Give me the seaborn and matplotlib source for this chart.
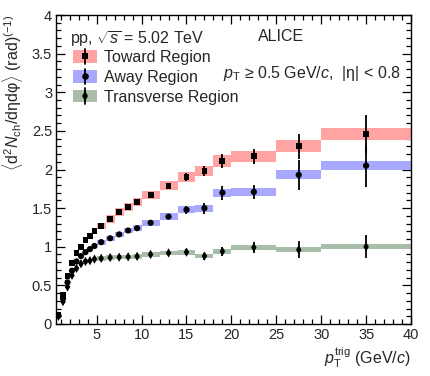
import numpy as np
import pandas as pd
import matplotlib
matplotlib.use("Agg")
import matplotlib.pyplot as plt
import matplotlib.ticker as mticker
from matplotlib.patches import Rectangle, Patch
from matplotlib.lines import Line2D
from matplotlib.legend_handler import HandlerBase
import seaborn as sns

# ---------------- data ----------------
bin_edges = [0.5, 1, 1.5, 2, 2.5, 3, 3.5, 4, 4.5, 5, 6, 7, 8, 9, 10, 12, 14, 16, 18, 20, 25, 30, 40]

toward = [0.12, 0.38, 0.62, 0.79, 0.915, 1.00, 1.09, 1.14, 1.20, 1.27, 1.36, 1.45, 1.52, 1.58,
          1.67, 1.79, 1.90, 1.98, 2.11, 2.17, 2.30, 2.46]
away = [0.11, 0.33, 0.54, 0.69, 0.81, 0.88, 0.93, 0.97, 1.01, 1.06, 1.11, 1.16, 1.21, 1.24,
        1.31, 1.39, 1.48, 1.50, 1.70, 1.71, 1.93, 2.05]
trans = [0.10, 0.29, 0.48, 0.63, 0.72, 0.78, 0.81, 0.82, 0.84, 0.85, 0.86, 0.865, 0.87, 0.875,
         0.90, 0.92, 0.93, 0.88, 0.94, 0.99, 0.96, 1.00]

toward_stat = [0.01, 0.01, 0.01, 0.01, 0.01, 0.01, 0.01, 0.01, 0.01, 0.01, 0.01, 0.012, 0.015, 0.02,
               0.025, 0.035, 0.05, 0.07, 0.09, 0.095, 0.165, 0.25]
away_stat = [0.01, 0.01, 0.01, 0.01, 0.01, 0.01, 0.01, 0.01, 0.01, 0.01, 0.01, 0.012, 0.015, 0.02,
             0.025, 0.035, 0.05, 0.07, 0.09, 0.09, 0.19, 0.27]
trans_stat = [0.01, 0.01, 0.01, 0.01, 0.01, 0.01, 0.01, 0.01, 0.01, 0.01, 0.01, 0.012, 0.015, 0.02,
              0.025, 0.03, 0.04, 0.045, 0.055, 0.07, 0.11, 0.15]

toward_sys = [0.004, 0.013, 0.021, 0.027, 0.031, 0.034, 0.037, 0.039, 0.041, 0.043, 0.046, 0.049,
              0.052, 0.054, 0.057, 0.061, 0.065, 0.067, 0.072, 0.074, 0.078, 0.084]
away_sys = [0.003, 0.010, 0.016, 0.021, 0.024, 0.026, 0.028, 0.029, 0.030, 0.032, 0.033, 0.035,
            0.036, 0.037, 0.039, 0.042, 0.044, 0.045, 0.051, 0.051, 0.058, 0.062]
trans_sys = [0.003, 0.010, 0.016, 0.021, 0.024, 0.026, 0.027, 0.027, 0.028, 0.028, 0.028, 0.029,
             0.029, 0.029, 0.030, 0.030, 0.031, 0.029, 0.031, 0.033, 0.032, 0.033]

region_names = ["Toward Region", "Away Region", "Transverse Region"]
header_text = r"pp, $\sqrt{\mathit{s}}$ = 5.02 TeV"
alice_text = "ALICE"
cut_text = r"$\mathit{p}_{\mathrm{T}}$ ≥ 0.5 GeV/$\mathit{c}$,  |η| < 0.8"
x_label = r"$\mathit{p}_{\mathrm{T}}^{\mathrm{trig}}$ (GeV/$\mathit{c}$)"
y_label = r"$\langle$d$^{2}$$\mathit{N}_{\mathrm{ch}}$/dηdφ$\rangle$ (rad)$^{(-1)}$"

# ---------------- style ----------------
sns.set_style("ticks")
plt.rcParams["font.family"] = ["Liberation Sans", "DejaVu Sans"]
plt.rcParams["mathtext.fontset"] = "custom"
plt.rcParams["mathtext.rm"] = "Liberation Sans"
plt.rcParams["mathtext.it"] = "Liberation Sans:style=italic"
plt.rcParams["mathtext.bf"] = "Liberation Sans:weight=bold"

colors = ["#ffa3a3", "#a8a8ff", "#a9bea9"]
markers = ["s", "o", "d"]
msizes = [18, 20, 22]

edges = np.array(bin_edges)
centers = 0.5 * (edges[:-1] + edges[1:])
widths = np.diff(edges)

fig = plt.figure(figsize=(4.31, 3.76), dpi=100)
ax = fig.add_axes([0.1306, 0.1383, 0.8230, 0.8217])

series = [(toward, toward_stat, toward_sys), (away, away_stat, away_sys), (trans, trans_stat, trans_sys)]
for i, (vals, stat, sys_) in enumerate(series):
    vals = np.array(vals); sys_ = np.array(sys_)
    ax.bar(centers, 2 * sys_, width=widths, bottom=vals - sys_, color=colors[i],
           linewidth=0, align="center", zorder=1)
for i, (vals, stat, sys_) in enumerate(series):
    ax.errorbar(centers, vals, yerr=stat, fmt="none", ecolor="black", elinewidth=1.3,
                capsize=0, zorder=3)
    df = pd.DataFrame({"pt": centers, "val": vals})
    sns.scatterplot(data=df, x="pt", y="val", marker=markers[i], color="black", s=msizes[i],
                    edgecolor="none", linewidth=0, ax=ax, zorder=4, legend=False)

ax.set_xlim(0.5, 40)
ax.set_ylim(0, 4)
ax.xaxis.set_major_locator(mticker.MultipleLocator(5))
ax.xaxis.set_minor_locator(mticker.MultipleLocator(1))
ax.yaxis.set_major_locator(mticker.MultipleLocator(0.5))
ax.yaxis.set_minor_locator(mticker.MultipleLocator(0.1))
fmt = mticker.FuncFormatter(lambda v, p: f"{v:g}")
ax.xaxis.set_major_formatter(fmt)
ax.yaxis.set_major_formatter(fmt)
ax.tick_params(which="both", direction="in", top=True, right=True, labelsize=10.5, pad=3,
               color="black", width=0.9)
ax.tick_params(which="major", length=6.5)
ax.tick_params(which="minor", length=3.5)
for s in ax.spines.values():
    s.set_linewidth(1.0)
    s.set_color("black")

ax.set_xlabel(x_label, loc="right", fontsize=11.5, labelpad=2)
ax.set_ylabel(y_label, loc="top", fontsize=11.5, labelpad=5)

ax.text(0.039, 0.922, header_text, transform=ax.transAxes, fontsize=11.5, ha="left", va="center")
ax.text(0.634, 0.930, alice_text, transform=ax.transAxes, fontsize=11.5, ha="center", va="center")
ax.text(0.47, 0.812, cut_text, transform=ax.transAxes, fontsize=11.5, ha="left", va="center")


class BoxMarkHandler(HandlerBase):
    def __init__(self, color, marker, ms):
        super().__init__()
        self.color = color
        self.marker = marker
        self.ms = ms

    def create_artists(self, legend, orig_handle, xdescent, ydescent, width, height, fontsize, trans):
        x0, y0 = -xdescent, -ydescent
        rect = Rectangle((x0, y0), width, height, facecolor=self.color, edgecolor="none", transform=trans)
        cx = x0 + width / 2
        vline = Line2D([cx, cx], [y0 - 0.1 * height, y0 + 1.1 * height], color="black", lw=1.3,
                       transform=trans)
        mk = Line2D([cx], [y0 + height / 2], marker=self.marker, ms=self.ms, color="black",
                    markeredgewidth=0, ls="none", transform=trans)
        return [rect, vline, mk]


handles = [Patch() for _ in region_names]
hmap = {h: BoxMarkHandler(colors[i], markers[i], [4.5, 4.8, 5.2][i]) for i, h in enumerate(handles)}
ax.legend(handles, region_names, handler_map=hmap, loc="upper left", bbox_to_anchor=(0.047, 0.887),
          frameon=False, fontsize=11.5, borderpad=0, borderaxespad=0, handlelength=1.5,
          handleheight=0.85, handletextpad=0.45, labelspacing=0.3)

fig.savefig("out.png", dpi=100)
